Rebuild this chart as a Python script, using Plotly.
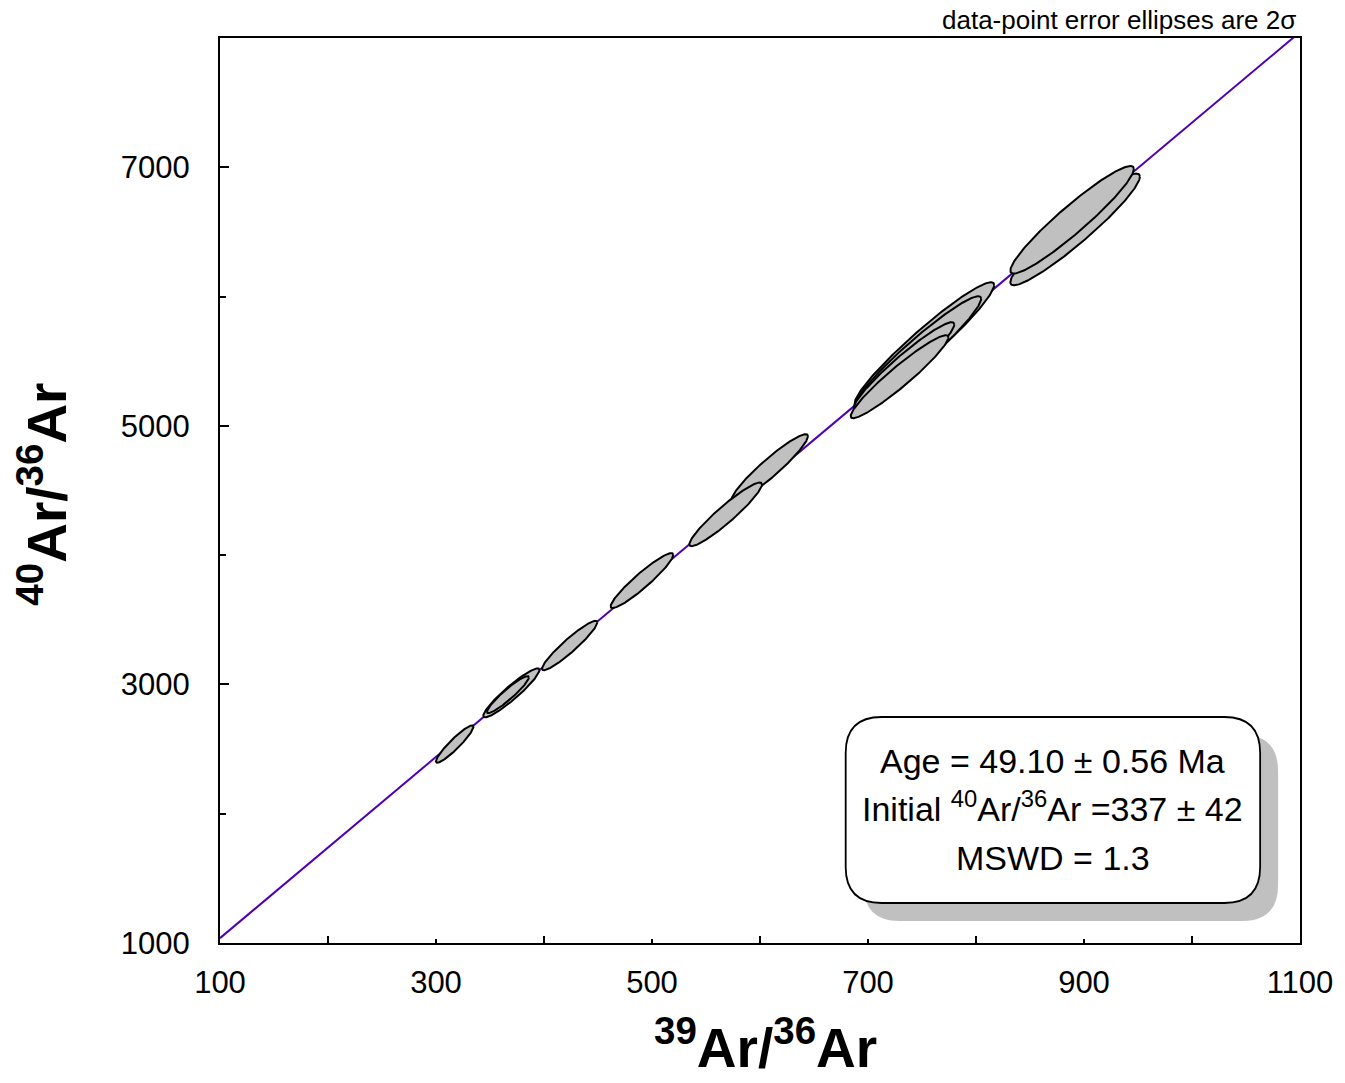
import numpy as np
import plotly.graph_objects as go

# ---- data: error ellipses (center, 1-sigma, correlation) ----
ell_x   = [317.3, 369.8, 366.6, 423.8, 490.7, 609.0, 568.2, 752.2, 746.2, 733.3, 729.2, 891.8, 889.0]
ell_y   = [2538.7, 2934.6, 2921.4, 3301.0, 3803.0, 4673.6, 4315.5, 5631.6, 5569.7, 5461.5, 5380.3, 6519.2, 6594.2]
ell_sx  = [8.7, 13.0, 9.7, 12.8, 14.5, 17.7, 16.8, 32.3, 29.3, 23.3, 22.6, 30.0, 28.6]
ell_sy  = [72.3, 94.7, 71.5, 95.5, 106.3, 130.9, 123.1, 239.7, 216.5, 170.1, 160.4, 215.9, 208.0]
ell_rho = [0.93, 0.935, 0.935, 0.938, 0.938, 0.94, 0.94, 0.955, 0.955, 0.95, 0.95, 0.945, 0.945]

# isochron
intercept = 337.0
slope = 7.008
line_x = [100, 1100]

x_ticks = [100, 300, 500, 700, 900, 1100]
y_ticks = [1000, 3000, 5000, 7000]

FONT = "Arial, Liberation Sans, sans-serif"

fig = go.Figure()

fig.add_trace(go.Scatter(
    x=line_x, y=[intercept + slope * v for v in line_x],
    mode="lines", line=dict(color="rgb(80,0,180)", width=2),
    hoverinfo="skip", showlegend=False))

t = np.linspace(0, 2 * np.pi, 240)
for cx, cy, sx, sy, r in zip(ell_x, ell_y, ell_sx, ell_sy, ell_rho):
    # 2-sigma ellipse via Cholesky
    ex = cx + 2 * sx * np.cos(t)
    ey = cy + 2 * sy * (r * np.cos(t) + np.sqrt(1 - r * r) * np.sin(t))
    fig.add_trace(go.Scatter(
        x=ex, y=ey, mode="lines", fill="toself",
        fillcolor="#c0c0c0", line=dict(color="black", width=2),
        hoverinfo="skip", showlegend=False))

# plot area geometry (pixels) for paper-coordinate decorations
L, R, T, B = 220, 1304, 38, 943
W, H = R - L, B - T

def px(xp):
    return (xp - L) / W

def py(yp):
    return (B - yp) / H

def rounded(x0, y0, x1, y1, rad):
    rx, ry = rad / W, rad / H
    a, b, c, d = px(x0), py(y1), px(x1), py(y0)  # left, bottom, right, top
    return (f"M {a+rx},{b} L {c-rx},{b} Q {c},{b} {c},{b+ry} "
            f"L {c},{d-ry} Q {c},{d} {c-rx},{d} L {a+rx},{d} "
            f"Q {a},{d} {a},{d-ry} L {a},{b+ry} Q {a},{b} {a+rx},{b} Z")

shapes = [
    dict(type="path", xref="paper", yref="paper",
         path=rounded(866, 735, 1282, 921, 36),
         fillcolor="#c0c0c0", line=dict(width=0), layer="above"),
    dict(type="path", xref="paper", yref="paper",
         path=rounded(848, 717, 1264, 903, 36),
         fillcolor="white", line=dict(color="black", width=1.8), layer="above"),
]

annotations = [
    dict(text="data-point error ellipses are 2σ", xref="paper", yref="paper",
         x=px(1302), y=py(20), xanchor="right", yanchor="middle",
         showarrow=False, font=dict(family=FONT, size=26, color="black")),
    dict(text="Age = 49.10 ± 0.56 Ma", xref="paper", yref="paper",
         x=px(1056), y=py(761), xanchor="center", yanchor="middle",
         showarrow=False, font=dict(family=FONT, size=34, color="black")),
    dict(text="Initial <sup>40</sup>Ar/<sup>36</sup>Ar =337 ± 42", xref="paper", yref="paper",
         x=px(1056), y=py(806), xanchor="center", yanchor="middle",
         showarrow=False, font=dict(family=FONT, size=34, color="black")),
    dict(text="MSWD = 1.3", xref="paper", yref="paper",
         x=px(1056), y=py(858), xanchor="center", yanchor="middle",
         showarrow=False, font=dict(family=FONT, size=34, color="black")),
    dict(text="<b><sup>39</sup>Ar/<sup>36</sup>Ar</b>", xref="paper", yref="paper",
         x=px(768), y=py(1044), xanchor="center", yanchor="middle",
         showarrow=False, font=dict(family=FONT, size=55, color="black")),
    dict(text="<b><sup>40</sup>Ar/<sup>36</sup>Ar</b>", xref="paper", yref="paper",
         x=px(42), y=py(494), xanchor="center", yanchor="middle", textangle=-90,
         showarrow=False, font=dict(family=FONT, size=55, color="black")),
]

fig.update_layout(
    width=1345, height=1083,
    margin=dict(l=L, r=1345 - R, t=T, b=1083 - B),
    paper_bgcolor="white", plot_bgcolor="white",
    shapes=shapes, annotations=annotations,
    showlegend=False,
)
fig.update_xaxes(
    range=[100, 1100], tickvals=x_ticks, ticktext=[str(v) for v in x_ticks],
    ticks="inside", ticklen=4, tickwidth=1.5, tickcolor="black",
    minor=dict(tickvals=[200, 400, 600, 800, 1000], ticks="inside", ticklen=7,
               tickwidth=1.5, tickcolor="black", showgrid=False),
    showgrid=False, zeroline=False, showline=True, linecolor="black", linewidth=2.2,
    mirror=True, tickfont=dict(family=FONT, size=31, color="black"),
    ticklabelstandoff=11,
)
fig.update_yaxes(
    range=[1000, 8000], tickvals=y_ticks, ticktext=[str(v) for v in y_ticks],
    ticks="inside", ticklen=9, tickwidth=1.5, tickcolor="black",
    minor=dict(tickvals=[2000, 4000, 6000], ticks="inside", ticklen=6,
               tickwidth=1.5, tickcolor="black", showgrid=False),
    showgrid=False, zeroline=False, showline=True, linecolor="black", linewidth=2.2,
    mirror=True, tickfont=dict(family=FONT, size=31, color="black"),
    ticklabelstandoff=22,
)

fig.write_html("out.html")
